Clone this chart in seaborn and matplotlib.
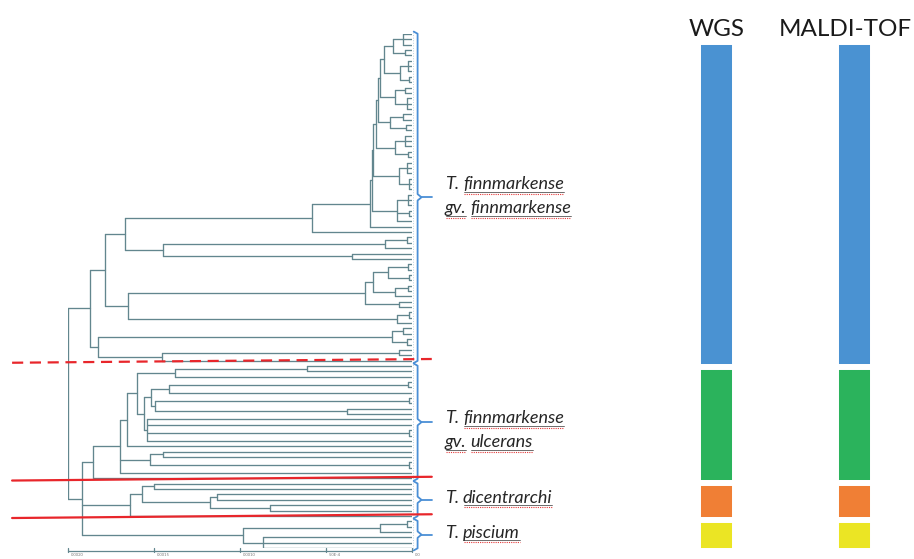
import matplotlib
matplotlib.use("Agg")
import matplotlib.pyplot as plt
import matplotlib.transforms as mtransforms
import pandas as pd
import seaborn as sns

# ---- tree data: node = (height, child, child, ...), a leaf is 0 ----
# heights are in scale-bar units (leaves at 0, root at 4)
g1 = (0.22, (0.10, 0, 0, 0), (0.08, 0, 0))
g2 = (0.14, (0.05, 0, 0, 0), (0.04, 0, 0))
g3 = (0.20, (0.08, 0, 0), (0.06, 0, 0, 0))
g4 = (0.25, (0.10, 0, 0), (0.07, 0, 0))
g5 = (0.20, (0.08, 0, 0, 0), (0.05, 0, 0))
g6 = (0.15, (0.06, 0, 0, 0), (0.04, 0, 0, 0))
g7 = (0.18, (0.05, 0, 0, 0), (0.03, 0, 0), 0)
dense = (0.49, (0.46, (0.45, (0.42, (0.40, (0.37, (0.33, g1, g2), g3), g4), g5), g6), g7), 0)

clade_b = (3.34, (1.16, dense, 0), (2.90, (0.31, (0.06, 0, 0), 0), (0.70, 0, 0)))
clade_e = (3.30,
           (0.55, (0.45, (0.28, (0.05, 0, 0), (0.04, 0, 0)), (0.20, (0.05, 0, 0), 0)), (0.15, 0, 0)),
           (0.17, (0.04, 0, 0), 0))
clade_a2 = (3.65, (0.23, (0.10, 0, 0), (0.06, 0, 0)), (2.91, (0.15, 0, 0), 0))
finnmarkense = (3.74, (3.57, clade_b, clade_e), clade_a2)

u_top = (2.76, (1.22, 0, 0), 0)
u_a = (3.03, (2.83, (0.05, 0, 0), 0), (2.99, (0.04, 0, 0), (0.76, 0, 0)))
u_mid = (3.12, u_a, (3.08, 0, 0, (0.04, 0, 0), 0))
u_low = (3.05, (2.90, 0, 0), (0.04, 0, 0))
ulcerans = (3.71, (3.40, (3.31, (3.20, u_top, u_mid), 0), u_low, 0), 0)

dicentrarchi = (3.28, (3.14, (3.00, 0, 0), (2.35, (2.27, 0, 0), (1.65, 0, 0))), 0)
piscium = (1.96, (0.37, (0.06, 0, 0), 0), (1.73, 0, 0, 0))

root_height = 4.0
lower_height = 3.84

group_trees = [finnmarkense, ulcerans, dicentrarchi, piscium]
group_labels = [["T. finnmarkense", "gv. finnmarkense"], ["T. finnmarkense", "gv. ulcerans"],
                ["T. dicentrarchi"], ["T. piscium"]]
group_colors = ["#4a92d2", "#2bb35c", "#f07f35", "#ebe524"]
separator_styles = ["--", "-", "-"]
methods = ["WGS", "MALDI-TOF"]
scale_ticks = [4, 3, 2, 1, 0]
scale_labels = ["0.0020", "0.0015", "0.0010", "5.0E-4", "0.0"]


def count_leaves(node):
    if node == 0:
        return 1
    return sum(count_leaves(k) for k in node[1:])


group_sizes = [count_leaves(t) for t in group_trees]
wgs_counts = group_sizes
maldi_counts = group_sizes

segments = []
next_leaf = [0]


def layout(node):
    if node == 0:
        y = next_leaf[0]
        next_leaf[0] += 1
        return y, 0.0
    h = node[0]
    kids = [layout(k) for k in node[1:]]
    for ky, kh in kids:
        segments.append([(kh, ky), (h, ky)])
    ys = [k[0] for k in kids]
    segments.append([(h, min(ys)), (h, max(ys))])
    return (ys[0] + ys[-1]) / 2, h


tree = (root_height, finnmarkense, (lower_height, ulcerans, dicentrarchi, piscium))
layout(tree)
n_leaves = next_leaf[0]

rows = []
for i, seg in enumerate(segments):
    for x, y in seg:
        rows.append({"seg": i, "x": x, "y": y})
df = pd.DataFrame(rows)

sns.set_theme(style="white")
plt.rcParams["font.family"] = ["Lato", "DejaVu Sans"]

W, H = 914, 559
fig = plt.figure(figsize=(W / 100, H / 100), dpi=100)
fig.patch.set_facecolor("white")
tree_col = "#62868e"

# tree axes: leaves at x=412px, root at x=68px; first leaf y=34px, last y=548px
ax = fig.add_axes([68 / W, (H - 548) / H, 344 / W, 514 / H])
sns.lineplot(data=df, x="x", y="y", units="seg", estimator=None, sort=False,
             color=tree_col, lw=0.95, ax=ax, legend=False)
ax.set_xlim(root_height, 0)
ax.set_ylim(n_leaves - 1, 0)
ax.axis("off")

# light dotted line along the leaf tips
ax.plot([-0.015, -0.015], [-0.3, n_leaves - 0.7], color="#b9cfe0", lw=0.7, ls=":", clip_on=False)

# group brackets and red separators
start = 0
bracket_col = "#4a8fd6"
mids = []
for gi, n in enumerate(group_sizes):
    s, e = start - 0.35, start + n - 1 + 0.35
    m = (s + e) / 2
    mids.append(m)
    bx = [-0.02, -0.065, -0.065, -0.11, -0.065, -0.065, -0.02]
    by = [s - 0.1, s + 0.3, m - 0.6, m, m + 0.6, e - 0.3, e + 0.1]
    ax.plot(bx, by, color=bracket_col, lw=1.3, clip_on=False)
    ax.plot([-0.11, -0.23], [m, m], color=bracket_col, lw=1.3, clip_on=False)
    start += n
    if gi < len(separator_styles):
        b = start - 0.5
        ax.plot([4.65, -0.23], [b - 0.1, b - 0.8], color="#e8262b", lw=1.6,
                ls=separator_styles[gi], dashes=(5, 3) if separator_styles[gi] == "--" else (None, None),
                clip_on=False, zorder=5)

# scale bar
sy = n_leaves - 1 + 0.6
ax.plot([scale_ticks[0], scale_ticks[-1]], [sy, sy], color=tree_col, lw=0.9, clip_on=False)
for t, lab in zip(scale_ticks, scale_labels):
    ax.plot([t, t], [sy - 0.6, sy + 0.1], color=tree_col, lw=0.9, clip_on=False)
    ax.text(t - 0.03, sy + 0.35, lab, fontsize=3, color="#777777", ha="left", va="top",
            clip_on=False)

# stacked bars for the two methods
bax = fig.add_axes([675 / W, (H - 551) / H, 221 / W, 509 / H])
for ci, counts in enumerate([wgs_counts, maldi_counts]):
    bottom = 0
    for n, c in zip(counts, group_colors):
        bax.bar(ci, n, bottom=bottom, width=0.268, color=c, edgecolor="white", linewidth=4.3)
        bottom += n
bax.set_xlim(-0.3, 1.3)
bax.set_ylim(sum(wgs_counts), 0)
bax.axis("off")
trans = mtransforms.blended_transform_factory(bax.transData, bax.transAxes)
bax.text(0, 1.024, methods[0], transform=trans, ha="center", va="center",
         fontsize=17.5, color="#1a1a1a")
bax.text(0.93, 1.024, methods[1], transform=trans, ha="center", va="center",
         fontsize=17.5, color="#1a1a1a")

# group labels (italic, names underlined like in the source document)
renderer = fig.canvas.get_renderer()
ident = mtransforms.IdentityTransform()
label_x = ax.transData.transform((-0.38, 0))[0]
label_shift = [5, -4, 0, 0]
for lines, m, dy in zip(group_labels, mids, label_shift):
    ym = ax.transData.transform((0, m))[1] + dy
    if len(lines) == 1:
        bases = [ym - 3]
    else:
        bases = [ym + 3, ym - 21]
    for line, yb in zip(lines, bases):
        x = label_x
        for word in line.split(" "):
            t = fig.text(x, yb, word, transform=ident, style="italic", fontsize=13,
                         color="#262626", ha="left", va="baseline")
            bb = t.get_window_extent(renderer)
            if word != "T.":
                fig.add_artist(plt.Line2D([bb.x0 + 1, bb.x1], [yb - 2.5, yb - 2.5], transform=ident,
                                          color="#555555", lw=0.6))
                fig.add_artist(plt.Line2D([bb.x0 + 1, bb.x1], [yb - 4.5, yb - 4.5], transform=ident,
                                          color="#e33b3b", lw=0.8, ls=(0, (1, 1))))
            x = bb.x1 + 4

fig.savefig("out.png", dpi=100, facecolor="white")
